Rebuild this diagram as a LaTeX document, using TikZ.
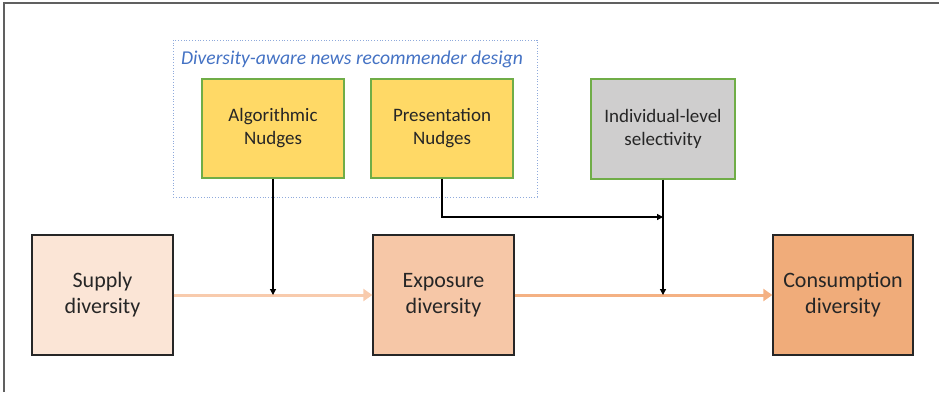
\documentclass[tikz,border=0pt]{standalone}
\usepackage{fontspec}
\setmainfont{Carlito}
\usetikzlibrary{arrows.meta,positioning}
\definecolor{nudgefill}{HTML}{FFD966}
\definecolor{nudgeline}{HTML}{70AD47}
\definecolor{selfill}{HTML}{CFCECE}
\definecolor{supfill}{HTML}{FBE5D6}
\definecolor{expfill}{HTML}{F6C7A7}
\definecolor{confill}{HTML}{F0AC7A}
\definecolor{arrowA}{HTML}{F8CBAD}
\definecolor{arrowB}{HTML}{F4B183}
\definecolor{grpline}{HTML}{8FAADC}
\definecolor{grptext}{HTML}{4472C4}
\definecolor{frame}{HTML}{606060}
\tikzset{
  topbox/.style={draw=nudgeline, line width=1.2pt, align=center, inner sep=0pt,
    minimum width=142pt, minimum height=99pt, font=\fontsize{19}{23}\selectfont, text=black!85},
  mainbox/.style={draw=black!85, line width=1.3pt, align=center, inner sep=0pt,
    minimum width=141pt, minimum height=120pt, font=\fontsize{22}{26}\selectfont, text=black!85},
  grpbox/.style={draw=grpline, dotted, line width=0.8pt, inner sep=0pt,
    minimum width=364pt, minimum height=157pt},
  blk/.style={draw=black, line width=1.2pt, -{Triangle[length=6pt,width=6pt]}},
  orA/.style={draw=arrowA, line width=3pt, -{Triangle[length=9pt,width=12pt]}},
  orB/.style={draw=arrowB, line width=3pt, -{Triangle[length=9pt,width=12pt]}},
}
\begin{document}
\begin{tikzpicture}[x=1pt,y=-1pt]
\useasboundingbox (0,0) rectangle (939,392);
\draw[frame, line width=2pt] (4,392) -- (4,3) -- (939,3);
\node[grpbox] (grp) at (355,118.5) {};
\node[font=\itshape\fontsize{19.6}{22}\selectfont, text=grptext] (title) at (352,59) {Diversity-aware news recommender design};
\node[topbox, fill=nudgefill] (alg) at (273,128.5) {Algorithmic\\Nudges};
\node[topbox, fill=nudgefill] (pre) at (442,128.5) {Presentation\\Nudges};
\node[topbox, fill=selfill, minimum width=144pt, minimum height=100pt] (ind) at (663,129) {Individual-level\\selectivity};
\node[mainbox, fill=supfill] (sup) at (102.5,295) {Supply\\diversity};
\node[mainbox, fill=expfill] (exp) at (443.5,295) {Exposure\\diversity};
\node[mainbox, fill=confill, minimum width=140pt] (con) at (843,295) {Consumption\\diversity};
\draw[orA] (sup.east) -- (exp.west);
\draw[orB] (exp.east) -- (con.west);
\coordinate (m1) at (alg.south |- sup.east);
\coordinate (m2) at (ind.south |- exp.east);
\coordinate (pj) at (663,217);
\draw[blk] (alg.south) -- (m1);
\draw[blk] (ind.south) -- (m2);
\draw[blk] (pre.south) |- (pj);
\end{tikzpicture}
\end{document}
